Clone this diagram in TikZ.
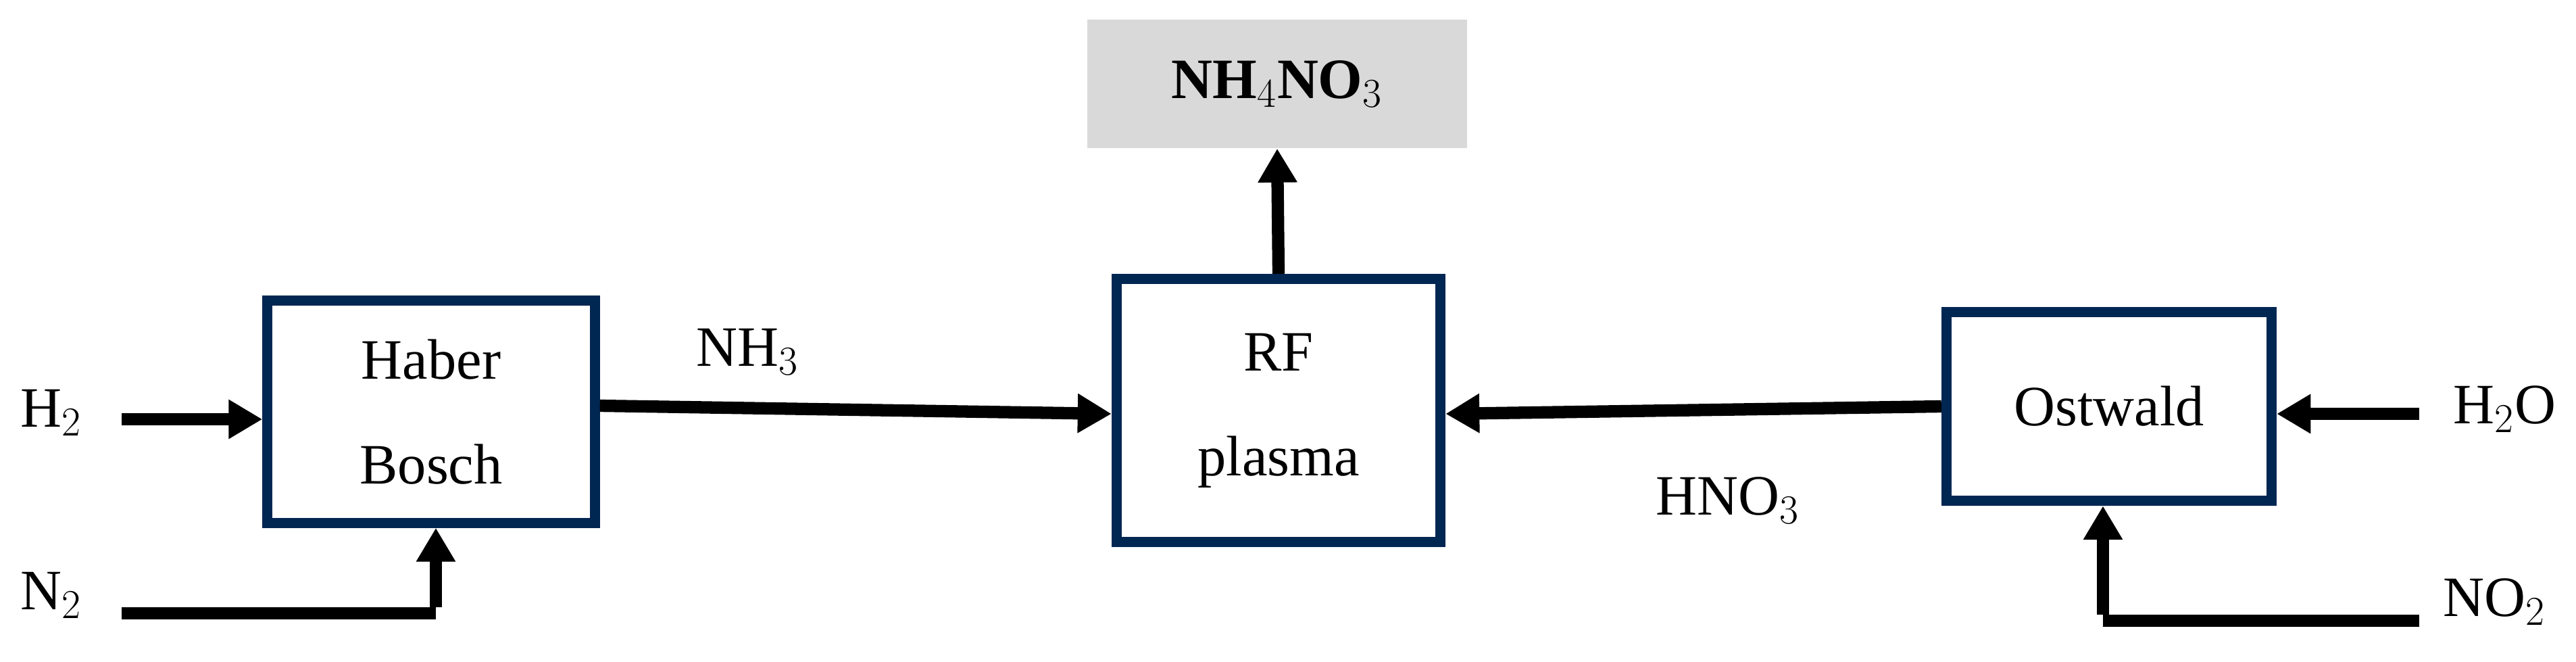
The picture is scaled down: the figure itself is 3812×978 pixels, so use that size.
\documentclass[tikz,border=0pt]{standalone}
\usepackage{fontspec}
\setmainfont{Liberation Serif}
\usetikzlibrary{arrows.meta}
\definecolor{navy}{HTML}{002652}
\definecolor{greyfill}{HTML}{D9D9D9}
\begin{document}
\begin{tikzpicture}[x=0.01cm,y=-0.01cm,
  box/.style={draw=navy,line width=4.3pt,fill=white,inner sep=0pt},
  lbl/.style={font=\fontsize{24}{28}\selectfont,inner sep=0pt,anchor=west},
  flow/.style={line width=5.2pt,-{Triangle[length=0.5cm,width=0.55cm]}},
  plain/.style={line width=5.2pt}]
\useasboundingbox (0,0) rectangle (3812,978);
\node[box,minimum width=4.84cm,minimum height=3.28cm,align=center,font=\fontsize{24}{44}\selectfont] (hb) at (638,609) {Haber\\Bosch};
\node[box,minimum width=4.79cm,minimum height=3.89cm,align=center,font=\fontsize{24}{44}\selectfont] (rf) at (1892,607) {RF\\plasma};
\node[box,minimum width=4.81cm,minimum height=2.79cm,font=\fontsize{24}{28}\selectfont] (ow) at (3121,601) {Ostwald};
\node[fill=greyfill,minimum width=5.62cm,minimum height=1.9cm,font=\bfseries\fontsize{24}{28}\selectfont] (pr) at (1890,124) {NH$_4$NO$_3$};
\node[lbl] (h2) at (30,610) {H$_2$};
\node[lbl] (n2) at (30,880) {N$_2$};
\node[lbl] (nh3) at (1030,520) {NH$_3$};
\node[lbl] (hno3) at (2450,740) {HNO$_3$};
\node[lbl] (h2o) at (3630,605) {H$_2$O};
\node[lbl] (no2) at (3615,890) {NO$_2$};
\coordinate (h2eA) at (3580,612);
\coordinate (h2e) at (180,620);
\coordinate (n2e) at (180,907);
\coordinate (n2c) at (645,907);
\coordinate (no2e) at (3580,918);
\coordinate (no2c) at (3112,918);
\draw[flow] (h2e) -- (hb.west|-h2e);
\draw[plain] (n2e) -- (n2c);
\draw[flow] ([yshift=2.6pt]n2c) -- (hb.south-|n2c);
\draw[flow] (hb.east|-0,600) -- (rf.west|-0,612);
\draw[flow] (ow.west|-0,601) -- (rf.east|-0,612);
\draw[flow] (h2eA) -- (ow.east|-h2eA);
\draw[plain] (no2e) -- (no2c);
\draw[flow] ([yshift=2.6pt]no2c) -- (ow.south-|no2c);
\draw[flow] (rf.north) -- (pr.south);
\end{tikzpicture}
\end{document}
